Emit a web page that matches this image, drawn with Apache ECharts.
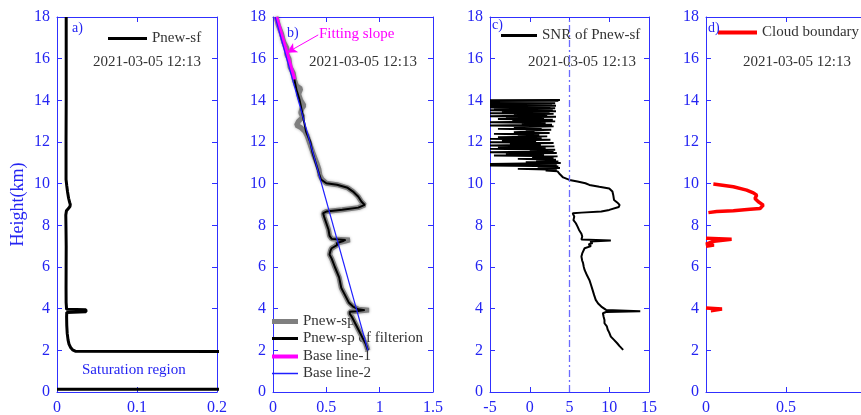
<!DOCTYPE html>
<html>
<head>
<meta charset="utf-8">
<script src="https://cdn.jsdelivr.net/npm/echarts@6/dist/echarts.min.js"></script>
<style>
  html, body { margin: 0; padding: 0; background: #fff; }
  #chart { width: 861px; height: 415px; }
</style>
</head>
<body>
<div id="chart"></div>
<script>
// ---- Panel a: Pnew-sf profile ----
const aHeight = [18, 16, 14, 12, 10.2, 9.9, 9.6, 9.3, 9.1, 9.0, 8.9, 8.8, 8.7, 8.5, 8.0, 7.0, 6.0, 5.0, 4.3,
  3.97, 3.95, 3.85, 3.82, 3.6, 3.2, 2.8, 2.5, 2.3, 2.15, 2.02, 1.96, 1.93, 0.13, 0.13];
const aPnewSf = [0.0115, 0.0115, 0.0115, 0.0113, 0.0113, 0.0122, 0.0132, 0.0145, 0.0158, 0.0166, 0.0162, 0.0140, 0.0118, 0.0110, 0.0112, 0.0115, 0.0114, 0.0113, 0.0114,
  0.0120, 0.0362, 0.0362, 0.0122, 0.0120, 0.0122, 0.0128, 0.0138, 0.0150, 0.0168, 0.0195, 0.0228, 0.45, 0.45, 0];

// ---- Panel b: Pnew-sp, filtered Pnew-sp and the two base lines ----
const bRawHeight = [18.0, 17.6, 17.2, 16.8, 16.5, 16.2, 16.0, 15.6, 15.3, 15.0, 14.7, 14.55, 14.3, 14.0, 13.75, 13.6, 13.4, 13.2, 13.0, 12.8, 12.7, 12.5, 12.3, 12.0, 11.7, 11.4, 11.0, 10.7, 10.4, 10.2,
  10.02, 9.95, 9.8, 9.62, 9.37, 9.13, 8.98, 8.85, 8.75, 8.66, 8.58, 8.4, 8.1, 7.8, 7.5, 7.35, 7.3, 7.25, 7.15, 7.05, 6.9, 6.8, 6.6, 6.4, 6.0, 5.5, 5.0, 4.6, 4.3, 4.1,
  3.97, 3.93, 3.88, 3.85, 3.75, 3.6, 3.3, 3.0, 2.6, 2.3, 2.0];
const bRawSp = [0.03, 0.05, 0.08, 0.10, 0.13, 0.13, 0.15, 0.16, 0.19, 0.20, 0.22, 0.26, 0.24, 0.26, 0.29, 0.27, 0.26, 0.28, 0.24, 0.22, 0.26, 0.30, 0.32, 0.34, 0.36, 0.38, 0.41, 0.43, 0.44, 0.46,
  0.5, 0.6, 0.7, 0.75, 0.8, 0.83, 0.86, 0.8, 0.65, 0.5, 0.47, 0.48, 0.5, 0.52, 0.53, 0.55, 0.72, 0.68, 0.6, 0.6, 0.55, 0.54, 0.53, 0.55, 0.58, 0.62, 0.64, 0.68, 0.71, 0.75,
  0.8, 0.9, 0.78, 0.72, 0.72, 0.74, 0.77, 0.8, 0.84, 0.87, 0.89];

const bFiltHeight = [18, 17.5, 17, 16.5, 16, 15.5, 15, 14.5, 14, 13.5, 13, 12.5, 12, 11.5, 11, 10.5, 10.2,
  10.02, 9.95, 9.8, 9.62, 9.37, 9.13, 8.98, 8.85, 8.75, 8.66, 8.58, 8.4, 8.1, 7.8, 7.5, 7.35, 7.3, 7.25, 7.15, 7.05, 6.9, 6.8, 6.6, 6.4, 6.0, 5.5, 5.0, 4.6, 4.3, 4.1,
  3.97, 3.93, 3.88, 3.85, 3.75, 3.6, 3.3, 3.0, 2.6, 2.3, 2.0];
const bFiltSp = [0.03, 0.06, 0.09, 0.12, 0.14, 0.17, 0.20, 0.22, 0.25, 0.27, 0.29, 0.31, 0.35, 0.37, 0.40, 0.43, 0.45,
  0.5, 0.6, 0.7, 0.75, 0.8, 0.83, 0.86, 0.8, 0.65, 0.5, 0.47, 0.48, 0.5, 0.52, 0.53, 0.55, 0.68, 0.66, 0.6, 0.6, 0.55, 0.54, 0.53, 0.55, 0.58, 0.62, 0.64, 0.68, 0.71, 0.75,
  0.8, 0.86, 0.78, 0.72, 0.72, 0.74, 0.77, 0.8, 0.84, 0.87, 0.89];

const baseLine1Height = [18, 15];
const baseLine1 = [0.03, 0.2];
const baseLine2Height = [18, 2];
const baseLine2 = [0.02, 0.89];
const fitArrow = [[0.424, 17.14], [0.131, 16.29]];

// ---- Panel c: SNR of Pnew-sf ----
const cHeight = [14.02, 14.00, 13.97, 13.95, 13.92, 13.89, 13.86, 13.83, 13.80, 13.77, 13.74, 13.71, 13.68, 13.65, 13.62, 13.58, 13.55, 13.52, 13.48, 13.45,
  13.42, 13.38, 13.35, 13.31, 13.28, 13.24, 13.21, 13.17, 13.14, 13.10, 13.07, 13.03, 12.99, 12.95, 12.91, 12.87, 12.83, 12.79, 12.75, 12.71,
  12.67, 12.63, 12.59, 12.55, 12.51, 12.47, 12.43, 12.39, 12.35, 12.31, 12.27, 12.23, 12.19, 12.15, 12.11, 12.07, 12.03, 11.99, 11.95, 11.91,
  11.87, 11.83, 11.79, 11.75, 11.71, 11.67, 11.63, 11.59, 11.55, 11.51, 11.47, 11.43, 11.39, 11.35, 11.31, 11.27, 11.23, 11.19, 11.15, 11.11,
  11.07, 11.03, 10.99, 10.95, 10.91, 10.87, 10.83, 10.79, 10.75, 10.71, 10.67, 10.63, 10.59, 10.52, 10.45, 10.38, 10.30, 10.24, 10.18, 10.10,
  10.02, 9.94, 9.85, 9.77, 9.62, 9.46, 9.22, 9.10, 8.98, 8.88, 8.82, 8.74, 8.66, 8.61, 8.58, 8.50, 8.42, 8.25, 8.10, 7.95,
  7.78, 7.60, 7.46, 7.32, 7.27, 7.22, 7.15, 7.08, 7.00, 6.90, 6.82, 6.65, 6.50, 6.30, 6.20, 6.00, 5.86, 5.60, 5.38, 5.15,
  4.90, 4.65, 4.42, 4.25, 4.10, 3.94, 3.88, 3.84, 3.78, 3.60, 3.46, 3.30, 3.15, 3.00, 2.85, 2.66, 2.50, 2.34, 2.20, 2.02];
const cSnr = [3.8, -5, 3.6, -5, 3.0, -5, 3.2, -5, 2.8, -5, 3.3, -5, 2.6, -5, 3.2, -4.5, 2.9, -5, 3.3, -3.5,
  2.5, -5, 3.0, -2.0, 2.2, -5, 3.3, -3.0, 1.8, -4.0, 2.9, -2.2, 3.2, -5, 2.0, -1.0, 2.8, -5, 3.0, -2.0,
  1.5, -4.0, 2.7, -0.5, 0.6, -2.0, 2.5, -4.5, 1.2, -1.5, 2.2, -4.0, 1.5, -5, 2.6, -3.5, 0.8, -5, 3.0, -2.5,
  1.4, -5, 3.1, -4.0, 2.0, -5, 3.2, 0.0, 3.0, -5, 3.4, -3.0, 1.8, -4.5, 3.5, 0.3, 3.0, -1.5, 3.3, 0.8,
  3.6, -0.5, 3.9, -5, 3.4, -5, 3.6, 1.0, 3.8, -1.5, 3.4, 2.0, 3.5, 3.6, 3.8, 4.0, 4.2, 4.6, 5.0, 6.0,
  7.0, 7.5, 8.75, 10.0, 10.4, 10.5, 10.6, 11.0, 11.3, 11.2, 11.0, 10.0, 9.0, 6.5, 5.4, 5.2, 5.6, 5.5, 5.8, 6.0,
  6.2, 6.5, 6.6, 6.5, 10.2, 7.6, 7.9, 7.4, 7.7, 6.9, 6.7, 6.6, 6.5, 6.6, 6.7, 6.8, 6.9, 7.2, 7.5, 7.7,
  7.9, 8.1, 8.3, 8.6, 9.0, 9.6, 13.9, 9.6, 9.2, 9.3, 9.4, 9.4, 9.7, 9.8, 10.0, 10.2, 10.6, 11.0, 11.3, 11.75];
const snrThreshold = 5;

// ---- Panel d: cloud boundary (three layers) ----
const dLayer1Height = [9.98, 9.85, 9.69, 9.56, 9.45, 9.29, 9.13, 8.97, 8.81, 8.77, 8.70, 8.66, 8.61];
const dLayer1 = [0.046, 0.171, 0.254, 0.296, 0.317, 0.306, 0.327, 0.358, 0.338, 0.275, 0.171, 0.067, 0.015];
const dLayer2Height = [7.38, 7.33, 7.28, 7.24, 7.15, 7.10, 7.05, 7.00];
const dLayer2 = [0.0, 0.16, 0.16, 0.05, 0.06, 0.0, 0.05, 0.0];
const dLayer3Height = [4.03, 3.98, 3.92, 3.90];
const dLayer3 = [0.0, 0.1, 0.1, 0.03];

// ---- Axes ----
const heightTicks = { min: 0, max: 18, interval: 2 };
const panelX = [
  { min: 0, max: 0.2, interval: 0.1 },
  { min: 0, max: 1.5, interval: 0.5 },
  { min: -5, max: 15, interval: 5 },
  { min: 0, max: 1, interval: 0.5 }
];
const stamp = '2021-03-05 12:13';

const SERIF = 'Liberation Serif';
const AXIS_BLUE = '#3030ff';
const TEXT_BLUE = '#2424f2';
const grids = [
  { left: 57, top: 17, width: 160, height: 375 },
  { left: 273, top: 17, width: 160, height: 375 },
  { left: 490, top: 17, width: 159, height: 375 },
  { left: 706, top: 17, width: 160, height: 375 }
];

function zip(hs, xs) { return hs.map((h, i) => [xs[i], h]); }

const xAxes = [], yAxes = [];
grids.forEach((g, i) => {
  const line = { show: true, onZero: false, lineStyle: { color: AXIS_BLUE, width: 1 } };
  const tick = { show: true, inside: true, length: 5, lineStyle: { color: AXIS_BLUE } };
  xAxes.push({
    type: 'value', gridIndex: i, position: 'bottom', ...panelX[i],
    axisLine: line, axisTick: tick, splitLine: { show: false },
    axisLabel: { color: TEXT_BLUE, fontFamily: SERIF, fontSize: 16, margin: 8 }
  });
  xAxes.push({
    type: 'value', gridIndex: i, position: 'top', ...panelX[i],
    axisLine: line, axisTick: tick, splitLine: { show: false }, axisLabel: { show: false }
  });
  const left = {
    type: 'value', gridIndex: i, position: 'left', ...heightTicks,
    axisLine: line, axisTick: tick, splitLine: { show: false },
    axisLabel: { color: TEXT_BLUE, fontFamily: SERIF, fontSize: 16, margin: 7 }
  };
  if (i === 0) {
    Object.assign(left, {
      name: 'Height(km)', nameLocation: 'middle', nameGap: 30,
      nameTextStyle: { color: TEXT_BLUE, fontFamily: SERIF, fontSize: 18 }
    });
  }
  yAxes.push(left);
  yAxes.push({
    type: 'value', gridIndex: i, position: 'right', ...heightTicks,
    axisLine: line, axisTick: tick, splitLine: { show: false }, axisLabel: { show: false }
  });
});

function lineSeries(name, panel, data, color, width, extra) {
  return Object.assign({
    name, type: 'line', xAxisIndex: panel * 2, yAxisIndex: panel * 2,
    data, showSymbol: false, symbol: 'none', animation: false,
    lineStyle: { color, width }, itemStyle: { color }, z: 3
  }, extra || {});
}

const series = [
  lineSeries('Pnew-sf', 0, zip(aHeight, aPnewSf), '#000', 3),
  lineSeries('Pnew-sp', 1, zip(bRawHeight, bRawSp), '#7f7f7f', 5,
    { lineStyle: { color: '#7f7f7f', width: 5, shadowBlur: 3, shadowColor: 'rgba(0,0,0,0.35)' } }),
  lineSeries('Pnew-sp of filterion', 1, zip(bFiltHeight, bFiltSp), '#000', 2),
  lineSeries('Base line-1', 1, zip(baseLine1Height, baseLine1), '#ff00ff', 4, {
    markLine: {
      silent: true, animation: false,
      lineStyle: { color: '#ff00ff', width: 1, type: 'solid' },
      label: { show: false },
      symbolSize: [8, 10],
      data: [[{ coord: fitArrow[0], symbol: 'none' }, { coord: fitArrow[1], symbol: 'arrow' }]]
    }
  }),
  lineSeries('Base line-2', 1, zip(baseLine2Height, baseLine2), '#1f1fff', 1.2),
  lineSeries('SNR of Pnew-sf', 2, zip(cHeight, cSnr), '#000', 2, {
    markLine: {
      silent: true, animation: false, symbol: 'none',
      label: { show: false },
      lineStyle: { color: '#6a6aff', width: 1.3, type: [7, 3, 2, 3] },
      data: [{ xAxis: snrThreshold }]
    }
  }),
  lineSeries('Cloud boundary', 3, zip(dLayer1Height, dLayer1), '#ff0000', 3.5),
  lineSeries('Cloud boundary', 3, zip(dLayer2Height, dLayer2), '#ff0000', 3.5),
  lineSeries('Cloud boundary', 3, zip(dLayer3Height, dLayer3), '#ff0000', 3.5)
];

// Legend entries are drawn as flat bars of the line's thickness, text centred on them
const legendText = { color: '#333', fontFamily: SERIF, fontSize: 15, lineHeight: 14 };
function legend(name, left, centerY, w, thick) {
  return {
    data: [name], left, top: centerY - 7, icon: 'rect',
    itemWidth: w, itemHeight: thick, itemGap: 0, padding: 0,
    selectedMode: false, z: 1, textStyle: legendText
  };
}

const labelText = (text, x, y, color, size) => ({
  type: 'text', left: x, top: y - size / 2, z: 5,
  style: { text, fill: color, font: size + 'px "' + SERIF + '"' }
});

const option = {
  animation: false,
  backgroundColor: '#fff',
  grid: grids.map(g => Object.assign({ show: false, containLabel: false, outerBoundsMode: 'none' }, g)),
  xAxis: xAxes,
  yAxis: yAxes,
  legend: [
    legend('Pnew-sf', 108, 38, 39, 3),
    legend('Pnew-sp', 272, 321, 26, 5),
    legend('Pnew-sp of filterion', 272, 338, 26, 3),
    legend('Base line-1', 272, 356, 26, 4),
    legend('Base line-2', 272, 373, 26, 1.5),
    legend('SNR of Pnew-sf', 501, 35, 36, 3),
    legend('Cloud boundary', 718, 32, 39, 4)
  ],
  graphic: [
    labelText('a)', 72, 28, TEXT_BLUE, 14),
    labelText('b)', 287, 33, TEXT_BLUE, 14),
    labelText('c)', 492, 25, TEXT_BLUE, 14),
    labelText('d)', 708, 28, TEXT_BLUE, 14),
    labelText(stamp, 93, 62, '#333', 15),
    labelText(stamp, 309, 62, '#333', 15),
    labelText(stamp, 528, 62, '#333', 15),
    labelText(stamp, 743, 62, '#333', 15),
    labelText('Fitting slope', 319, 34, '#ff00ff', 15),
    labelText('Saturation region', 82, 370, TEXT_BLUE, 15)
  ],
  series
};

const chart = echarts.init(document.getElementById('chart'), null, { renderer: 'canvas' });
chart.setOption(option);
</script>
</body>
</html>
